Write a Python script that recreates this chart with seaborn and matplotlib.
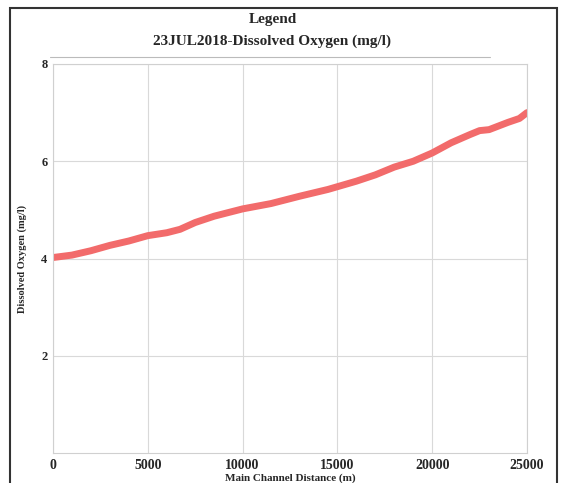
import matplotlib
matplotlib.use("Agg")
import matplotlib.pyplot as plt
import seaborn as sns
import pandas as pd
from matplotlib.patches import Rectangle
from matplotlib.lines import Line2D

distance = [0, 1000, 2000, 3000, 4000, 5000, 6000, 6700, 7500, 8500, 10000, 11500,
            13000, 14500, 16000, 17000, 18000, 19000, 20000, 21000, 22000, 22500,
            23000, 24000, 24600, 25000]
oxygen = [4.02, 4.07, 4.16, 4.27, 4.36, 4.47, 4.53, 4.60, 4.74, 4.87, 5.02, 5.13,
          5.28, 5.42, 5.59, 5.72, 5.88, 6.00, 6.17, 6.38, 6.55, 6.63, 6.65, 6.80,
          6.88, 7.00]
x_ticks = [0, 5000, 10000, 15000, 20000, 25000]
y_ticks = [2, 4, 6, 8]

sns.set_theme(style="white")
plt.rcParams['font.family'] = ['Liberation Serif', 'DejaVu Serif']

df = pd.DataFrame({"Distance": distance, "DO": oxygen})

W, H = 563, 483
fig = plt.figure(figsize=(W / 100, H / 100), dpi=100)
ax = fig.add_axes([53 / W, 1 - 453 / H, (527 - 53) / W, (453 - 64) / H])

sns.lineplot(data=df, x="Distance", y="DO", ax=ax, color="#f26b6b", linewidth=5,
             solid_capstyle="round")

ax.set_xlim(0, 25000)
ax.set_ylim(0, 8)
ax.set_xticks(x_ticks)
ax.set_yticks(y_ticks)
ax.set_xticklabels([str(t) for t in x_ticks], fontweight="bold", fontsize=10)
ax.set_yticklabels([str(t) for t in y_ticks], fontweight="bold", fontsize=9)
ax.grid(True, color="#d9d9d9", linewidth=0.8)
for s in ax.spines.values():
    s.set_color("#d0d0d0")
    s.set_linewidth(0.8)
ax.tick_params(axis="both", length=0, pad=4)
ax.set_xlabel("Main Channel Distance (m)", fontweight="bold", fontsize=8, labelpad=1)
ax.set_ylabel("Dissolved Oxygen (mg/l)", fontweight="bold", fontsize=7.5, labelpad=10)

fig.text(273 / W, 1 - 20 / H, "Legend", ha="center", va="center",
         fontweight="bold", fontsize=11)
fig.text(272 / W, 1 - 41 / H, "23JUL2018-Dissolved Oxygen (mg/l)",
         ha="center", va="center", fontweight="bold", fontsize=11)

fig.add_artist(Line2D([50 / W, 490 / W], [1 - 57 / H, 1 - 57 / H], color="#bbbbbb",
                      linewidth=0.8))
fig.add_artist(Rectangle((10 / W, -0.05), (557 - 10) / W, 1 - 8 / H + 0.05,
                         fill=False, edgecolor="#333333", linewidth=1.5))

fig.savefig("out.png", dpi=100)
